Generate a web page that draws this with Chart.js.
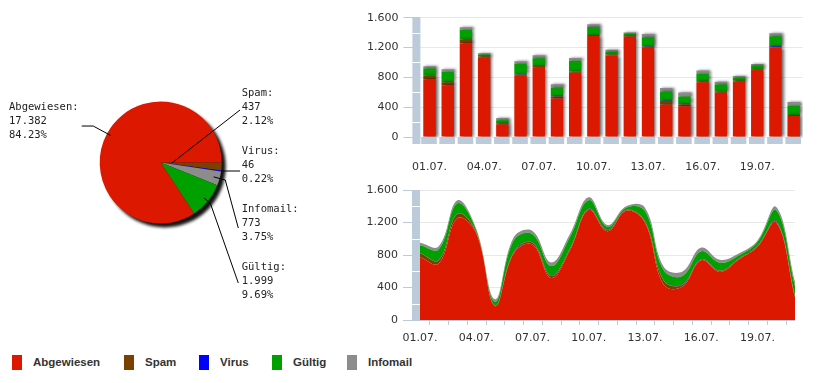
<!DOCTYPE html>
<html>
<head>
<meta charset="utf-8">
<script src="https://cdn.jsdelivr.net/npm/chart.js@4/dist/chart.umd.min.js"></script>
<style>
  html, body { margin:0; padding:0; background:#fff; }
  body { width:818px; height:383px; position:relative; overflow:hidden; font-family:"DejaVu Sans", sans-serif; }
  canvas { position:absolute; }
  #pie { left:0; top:0; }
  #bar { left:340px; top:0; }
  #area { left:340px; top:175px; }
  .lg-sw { position:absolute; width:10px; height:15px; top:355px; }
  .lg-tx { position:absolute; top:356px; height:15px; line-height:15px; font:bold 11.5px "Liberation Sans", Arial, sans-serif; color:#333; white-space:nowrap; }
</style>
</head>
<body>
<canvas id="pie" width="340" height="345"></canvas>
<canvas id="bar" width="478" height="175"></canvas>
<canvas id="area" width="478" height="175"></canvas>
<div id="legend"></div>
<script>
// ---------------- data ----------------
const dates = ['01.07.','02.07.','03.07.','04.07.','05.07.','06.07.','07.07.','08.07.','09.07.','10.07.','11.07.',
               '12.07.','13.07.','14.07.','15.07.','16.07.','17.07.','18.07.','19.07.','20.07.','21.07.'];
const abgewiesen = [772,695,1255,1068,172,822,930,518,861,1355,1093,1345,1197,433,411,735,592,745,902,1200,280];
const spam       = [52,38,50,10,8,14,22,25,18,12,13,10,15,50,24,10,14,9,9,12,15];
const virus      = [1,4,2,1,0,3,1,5,1,1,1,1,1,3,5,3,1,1,1,9,1];
const gueltig    = [94,135,130,28,45,143,103,116,143,107,40,27,125,125,103,98,98,40,49,130,120];
const infomail   = [31,35,36,15,30,35,40,45,36,36,22,18,45,45,54,45,36,23,18,40,53];

// pie totals (as printed)
const pieLabels = ['Spam','Virus','Infomail','Gültig','Abgewiesen'];
const pieValues = [437, 46, 773, 1999, 17382];

const yMax = 1600;
const yStep = 400;
const labelEvery = 3;

// ---------------- styles ----------------
const COLORS = { 'Abgewiesen':'#dd1800', 'Spam':'#7a4000', 'Virus':'#0000ff', 'Gültig':'#00a000', 'Infomail':'#8c8c8c' };
const WALL = '#bccbda';
const TEXT = '#333333';

const SERIES = [
  { name:'Abgewiesen', data:abgewiesen },
  { name:'Spam', data:spam },
  { name:'Virus', data:virus },
  { name:'Gültig', data:gueltig },
  { name:'Infomail', data:infomail }
];

function fmt(n){ return String(n).replace(/\B(?=(\d{3})+(?!\d))/g, '.'); }

Chart.defaults.font.family = '"DejaVu Sans", sans-serif';
Chart.defaults.font.size = 11;
Chart.defaults.color = TEXT;

// ---------------- plugins ----------------
const wallPlugin = {
  id:'wall',
  beforeDatasetsDraw(chart, args, opts){
    const {ctx, chartArea:a, scales:{x, y}} = chart;
    const depth = opts.depth || 0;
    ctx.save();
    ctx.fillStyle = WALL;
    ctx.fillRect(a.left - 8, a.top, 8, a.bottom - a.top + depth);
    ctx.fillStyle = '#ffffff';
    for (let v = yStep/2; v < yMax; v += yStep) {
      const py = Math.round(y.getPixelForValue(v));
      ctx.fillRect(a.left - 8, py, 8, 1);
    }
    if (opts.floor) {
      const n = x.getLabels().length;
      const half = (x.getPixelForValue(1) - x.getPixelForValue(0)) / 2;
      ctx.fillStyle = WALL;
      for (let i = 0; i < n; i++) {
        const cx = x.getPixelForValue(i);
        ctx.fillRect(cx - half + 0.8, a.bottom, 2*half - 2.6, depth);
      }
    }
    if (opts.axis) {
      ctx.fillStyle = WALL;
      ctx.fillRect(a.left, a.bottom, a.right - a.left, 1);
      const n = x.getLabels().length;
      for (let i = 0; i < n - 1; i++) {
        const mx = Math.round((x.getPixelForValue(i) + x.getPixelForValue(i+1)) / 2);
        ctx.fillRect(mx, a.bottom, 1, 5);
      }
    }
    ctx.restore();
  }
};

const barShadow = {
  id:'barShadow',
  beforeDatasetDraw(chart){
    const c = chart.ctx; c.save();
    c.shadowColor = 'rgba(0,0,0,0.6)'; c.shadowBlur = 3; c.shadowOffsetX = 2; c.shadowOffsetY = 0;
  },
  afterDatasetDraw(chart){ chart.ctx.restore(); }
};

const pieTotal = pieValues.reduce((s,v)=>s+v,0);
// layout of the pie annotations (positions only)
const PIE_LAYOUT = {
  'Abgewiesen': { tx:9,     ty:109.5, anchor:0.93, elbow:20, ex:81.7, ey:null },
  'Spam':       { tx:241.7, ty:96,    anchor:0.18, elbow:0,  ex:240,  ey:110 },
  'Virus':      { tx:241.7, ty:154,   anchor:1.0,  elbow:0,  ex:240,  ey:null },
  'Infomail':   { tx:241.7, ty:212,   anchor:0.9,  elbow:12, ex:238.3,ey:228 },
  'Gültig':     { tx:241.7, ty:269.5, anchor:0.92, elbow:8,  ex:238.3,ey:283 }
};

const pieDeco = {
  id:'pieDeco',
  beforeDatasetsDraw(chart){
    const a = chart.getDatasetMeta(0).data[0];
    const ctx = chart.ctx;
    ctx.save();
    ctx.filter = 'blur(1.5px)';
    ctx.fillStyle = 'rgba(0,0,0,0.92)';
    ctx.beginPath(); ctx.arc(a.x + 4, a.y + 4, a.outerRadius, 0, Math.PI*2); ctx.fill();
    ctx.restore();
  },
  afterDatasetsDraw(chart){
    const ctx = chart.ctx;
    const meta = chart.getDatasetMeta(0);
    ctx.save();
    ctx.strokeStyle = '#000'; ctx.lineWidth = 1;
    ctx.fillStyle = '#222';
    ctx.font = '10.5px "DejaVu Sans Mono", monospace';
    ctx.textBaseline = 'alphabetic';
    meta.data.forEach((arc, i) => {
      const name = pieLabels[i];
      const L = PIE_LAYOUT[name];
      const mid = (arc.startAngle + arc.endAngle) / 2;
      const r = arc.outerRadius * L.anchor;
      const ax = arc.x + Math.cos(mid) * r, ay = arc.y + Math.sin(mid) * r;
      ctx.beginPath();
      ctx.moveTo(ax, ay);
      let px = ax, py = ay;
      if (L.elbow) { px = ax + Math.cos(mid)*L.elbow; py = ay + Math.sin(mid)*L.elbow; ctx.lineTo(px, py); }
      ctx.lineTo(L.ex, L.ey == null ? py : L.ey);
      ctx.stroke();
      const v = pieValues[i];
      const lines = [name + ':', fmt(v), (v / pieTotal * 100).toFixed(2) + '%'];
      lines.forEach((t, k) => ctx.fillText(t, L.tx, L.ty + k * 14));
    });
    ctx.restore();
  }
};

// ---------------- pie ----------------
new Chart(document.getElementById('pie'), {
  type:'pie',
  data:{ labels:pieLabels, datasets:[{ data:pieValues, backgroundColor:pieLabels.map(n=>COLORS[n]), borderWidth:0 }] },
  options:{
    responsive:false, animation:false, rotation:90,
    layout:{ padding:{ left:99.7, top:101.5, right:118.3, bottom:121.5 } },
    plugins:{ legend:{display:false}, tooltip:{enabled:false} }
  },
  plugins:[pieDeco]
});

// ---------------- bar ----------------
function xTickCb(v, i){ return i % labelEvery === 0 ? this.getLabelForValue(v) : ''; }

new Chart(document.getElementById('bar'), {
  type:'bar',
  data:{ labels:dates, datasets: SERIES.map(s => ({ label:s.name, data:s.data, backgroundColor:COLORS[s.name], borderWidth:0, categoryPercentage:1, barPercentage:0.68 })) },
  options:{
    responsive:false, animation:false,
    layout:{ padding:{ top:17.7, right:13.4, left:0, bottom:0 } },
    plugins:{ legend:{display:false}, tooltip:{enabled:false}, wall:{ floor:true, depth:7 } },
    scales:{
      x:{ stacked:true, grid:{display:false, drawTicks:false}, border:{display:false},
          ticks:{ autoSkip:false, maxRotation:0, padding:24, color:TEXT, callback:xTickCb },
          afterFit(s){ s.height = 38; } },
      y:{ stacked:true, min:0, max:yMax, border:{display:false},
          ticks:{ stepSize:yStep, padding:5, color:TEXT, callback:v=>fmt(v) },
          grid:{ color:'#e8e8e8', tickColor:WALL, tickLength:17 },
          afterFit(s){ s.width = 80.4; } }
    }
  },
  plugins:[wallPlugin, barShadow]
});

// ---------------- area ----------------
new Chart(document.getElementById('area'), {
  type:'line',
  data:{ labels:dates, datasets: SERIES.map((s, i) => ({ label:s.name, data:s.data, backgroundColor:COLORS[s.name], borderColor:COLORS[s.name], borderWidth:0, pointRadius:0, fill: i === 0 ? 'origin' : '-1', tension:0.4 })) },
  options:{
    responsive:false, animation:false,
    layout:{ padding:{ top:15, right:23, left:0, bottom:0 } },
    plugins:{ legend:{display:false}, tooltip:{enabled:false}, wall:{ axis:true, depth:0 } },
    scales:{
      x:{ offset:false, grid:{display:false, drawTicks:false}, border:{display:false},
          ticks:{ autoSkip:false, maxRotation:0, padding:11.5, color:TEXT, callback:xTickCb },
          afterFit(s){ s.height = 30; } },
      y:{ stacked:true, min:0, max:yMax, border:{display:false},
          ticks:{ stepSize:yStep, padding:5, color:TEXT, callback:v=>fmt(v) },
          grid:{ color:'#e8e8e8', tickColor:WALL, tickLength:17 },
          afterFit(s){ s.width = 80; } }
    }
  },
  plugins:[wallPlugin]
});

// ---------------- legend ----------------
const legendOrder = ['Abgewiesen','Spam','Virus','Gültig','Infomail'];
const legendX = [12, 124, 199, 272, 347];
const lg = document.getElementById('legend');
legendOrder.forEach((n, i) => {
  const sw = document.createElement('div');
  sw.className = 'lg-sw'; sw.style.left = legendX[i] + 'px'; sw.style.background = COLORS[n];
  const tx = document.createElement('div');
  tx.className = 'lg-tx'; tx.style.left = (legendX[i] + 21) + 'px'; tx.textContent = n;
  lg.appendChild(sw); lg.appendChild(tx);
});
</script>
</body>
</html>
